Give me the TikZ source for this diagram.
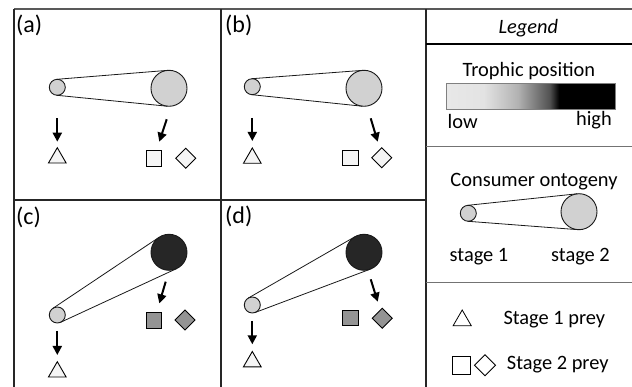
\documentclass[tikz,border=0pt]{standalone}
\usepackage{fontspec}
\setmainfont{Carlito}
\usetikzlibrary{calc,shapes.geometric,arrows.meta}
\pgfdeclarehorizontalshading{troph}{100bp}{color(0bp)=(black!9); color(25bp)=(black!9); color(36bp)=(black!11); color(46bp)=(black!30); color(55.5bp)=(black!68); color(58.25bp)=(black); color(100bp)=(black)}
\newcommand\ontotie[4]{%
  \draw[tie] let \p1=(#1.center), \p2=(#2.center),
    \n1={atan2(\y2-\y1,\x2-\x1)}, \n2={veclen(\x2-\x1,\y2-\y1)},
    \n3={acos((#3-#4)/\n2)} in
    ($(\p1)+(\n1+\n3:#3pt)$) -- ($(\p2)+(\n1+\n3:#4pt)$)
    ($(\p1)+(\n1-\n3:#3pt)$) -- ($(\p2)+(\n1-\n3:#4pt)$);}
\begin{document}
\begin{tikzpicture}[x=1pt,y=-1pt,
  font=\fontsize{20.4pt}{24pt}\selectfont,
  frame/.style={line width=1.5pt, draw=black!85},
  sepline/.style={line width=1.3pt, draw=black!55},
  smallc/.style={circle, draw=black!90, line width=0.9pt, fill=black!18, minimum size=16pt, inner sep=0pt, outer sep=0pt},
  bigc/.style={smallc, minimum size=36pt},
  bigdark/.style={bigc, fill=black!85},
  tie/.style={line width=0.8pt, draw=black!90},
  arr/.style={line width=2pt, -{Triangle[length=9pt,width=9pt]}},
  tri/.style={regular polygon, regular polygon sides=3, draw, line width=0.9pt, fill=black!4, minimum size=20.4pt, inner sep=0pt, outer sep=0pt},
  sq/.style={rectangle, draw, line width=0.9pt, fill=black!4, minimum size=15.5pt, inner sep=0pt, outer sep=0pt},
  dia/.style={diamond, draw, line width=0.9pt, fill=black!4, minimum size=20pt, inner sep=0pt, outer sep=0pt},
  sqg/.style={sq, fill=black!42},
  diag/.style={dia, fill=black!42},
  lab/.style={font=\fontsize{24pt}{28pt}\selectfont, inner sep=0pt, anchor=west},
  txt/.style={inner sep=0pt}]
\useasboundingbox (0,0) rectangle (632,387);
% frame
\draw[sepline, draw=black!65] (14,9) -- (632,9);
\draw[frame] (14,9) -- (14,387);
\draw[frame] (221,9) -- (221,387);
\draw[frame] (426,9) -- (426,387);
\draw[frame] (14,200) -- (426,200);
\draw[frame, draw=black] (426,44) -- (632,44);
\draw[sepline] (426,146.7) -- (632,146.7);
\draw[sepline] (426,282.3) -- (632,282.3);
% labels
\node[lab] (la) at (16,25.8) {(a)};
\node[lab] (lb) at (225,25.8) {(b)};
\node[lab] (lc) at (16,217.2) {(c)};
\node[lab] (ld) at (225,216.3) {(d)};
% panel a
\node[smallc] (a1) at (57.3,87.3) {};
\node[bigc] (a2) at (169,88.3) {};
\ontotie{a1}{a2}{8}{18}
\node[tri] (at) at (57.3,157.9) {};
\node[sq] (as) at (153.7,158.3) {};
\node[dia] (ad) at (185.7,158.3) {};
\coordinate (aa1) at (57.3,118.3);
\coordinate (aa2) at (166.7,119.3);
\draw[arr] (aa1) -- (at.north |- 0,141.7);
\draw[arr] (aa2) -- (159.3,141.7);
% panel b
\node[smallc] (b1) at (252.3,86.7) {};
\node[bigc] (b2) at (364,88.3) {};
\ontotie{b1}{b2}{8}{18}
\node[tri] (bt) at (252.3,158.2) {};
\node[sq] (bs) at (350.5,158) {};
\node[dia] (bd) at (381.7,157.7) {};
\coordinate (ba1) at (252.3,118);
\coordinate (ba2) at (370.7,118.3);
\draw[arr] (ba1) -- (bt.north |- 0,141);
\draw[arr] (ba2) -- (377.7,141.7);
% panel c
\node[smallc] (c1) at (57.3,315) {};
\node[bigdark] (c2) at (169,252.3) {};
\ontotie{c1}{c2}{8}{18}
\node[tri] (ct) at (57.3,371.9) {};
\node[sqg] (cs) at (153.7,320.5) {};
\node[diag] (cd) at (185,320) {};
\coordinate (ca1) at (57.3,331);
\coordinate (ca2) at (165.7,281.7);
\draw[arr] (ca1) -- (ct.north |- 0,355);
\draw[arr] (ca2) -- (159.3,303.3);
% panel d
\node[smallc] (d1) at (252.3,305) {};
\node[bigdark] (d2) at (364,252.3) {};
\ontotie{d1}{d2}{8}{18}
\node[tri] (dt) at (252.3,361.7) {};
\node[sqg] (ds) at (350.5,318.2) {};
\node[diag] (dd) at (382.3,318.3) {};
\coordinate (da1) at (252.3,321);
\coordinate (da2) at (370.7,279.3);
\draw[arr] (da1) -- (dt.north |- 0,344.3);
\draw[arr] (da2) -- (377.7,301.7);
% legend
\node[txt, anchor=base, font=\fontsize{20.4pt}{24pt}\selectfont\itshape] (lg) at (528.3,33.3) {Legend};
\node[txt, anchor=base] (tp) at (529,76.7) {Trophic position};
\shade[shading=troph] (446.7,83.3) rectangle (615.7,109.3);
\draw[line width=0.6pt, draw=black!50] (446.7,83.3) rectangle (615.7,109.3);
\node[txt, anchor=base west] (low) at (447.5,128.3) {low};
\node[txt, anchor=base east] (high) at (612,126) {high};
\node[txt, anchor=base] (co) at (534,186.7) {Consumer ontogeny};
\node[smallc] (l1) at (468.3,213.3) {};
\node[bigc] (l2) at (579,211.7) {};
\ontotie{l1}{l2}{8}{18}
\node[txt, anchor=base] (s1) at (479,261.3) {stage 1};
\node[txt, anchor=base] (s2) at (580.5,261.3) {stage 2};
\node[tri, fill=white, line width=0.8pt, minimum size=21pt] (lt) at (462.2,320.5) {};
\node[txt, anchor=base west] (p1) at (503.3,325) {Stage 1 prey};
\node[sq, fill=white, line width=0.8pt, minimum size=18.5pt] (ls) at (461.5,365.5) {};
\node[dia, fill=white, line width=0.8pt, minimum size=21pt] (ld2) at (485,365.3) {};
\node[txt, anchor=base west] (p2) at (506.7,370) {Stage 2 prey};
\end{tikzpicture}
\end{document}
